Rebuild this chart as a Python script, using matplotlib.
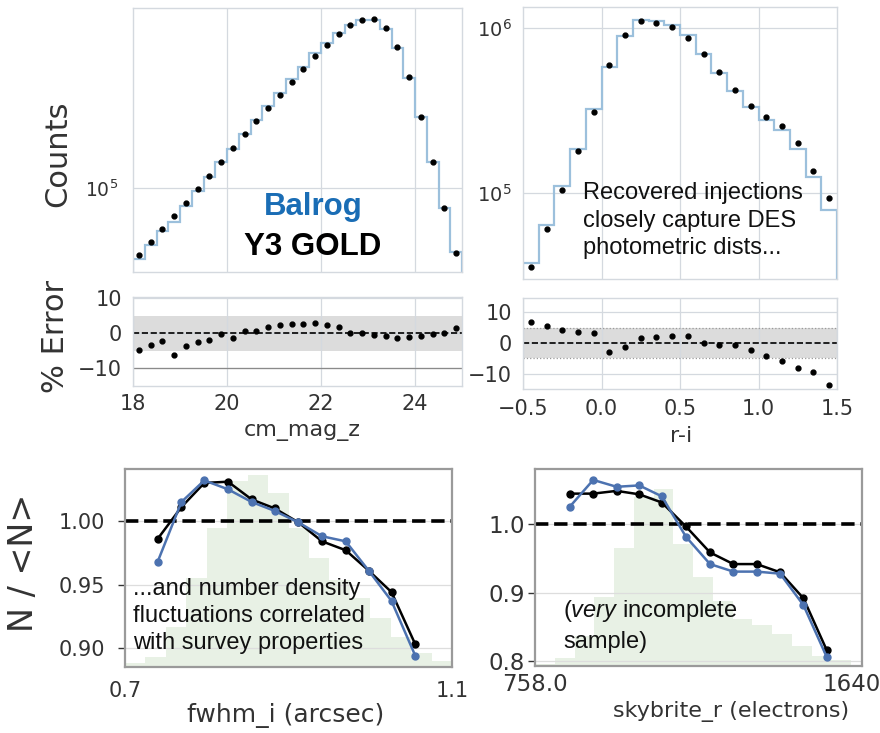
import numpy as np
import matplotlib.pyplot as plt
from matplotlib.ticker import NullFormatter, FormatStrFormatter

plt.rcParams['mathtext.fontset'] = 'custom'
plt.rcParams['mathtext.rm'] = 'Liberation Sans'
plt.rcParams['mathtext.it'] = 'Liberation Sans:italic'

W, H = 880, 733

# ---- cm_mag_z histogram (0.25 mag bins), Balrog = step, Y3 GOLD = dots
mag_edges = np.linspace(18.0, 25.0, 29)
mag_balrog = [44000, 51700, 60800, 67800, 81400, 96500, 112900, 134800, 156300,
              186500, 217800, 256500, 299100, 349300, 404200, 470800, 531300,
              596800, 654400, 691800, 694600, 626000, 501700, 354100, 225700,
              134500, 79200, 47900]
mag_gold = [46200, 53500, 62200, 72400, 84400, 98900, 115200, 134900, 158500,
            185600, 216300, 252000, 292700, 340100, 393600, 457100, 518800,
            586800, 653100, 691800, 697400, 631000, 508800, 357700, 227300,
            134900, 79200, 47200]
mag_err = [-4.7, -3.3, -2.3, -6.3, -3.6, -2.4, -2.0, -0.1, -1.4, 0.5, 0.7, 1.8,
           2.2, 2.7, 2.7, 3.0, 2.4, 1.7, 0.2, 0.0, -0.4, -0.8, -1.4, -1.0,
           -0.7, -0.3, 0.1, 1.5]

# ---- r-i histogram (0.1 bins)
ri_edges = np.linspace(-0.5, 1.5, 21)
ri_balrog = [37700, 64400, 110200, 185400, 320600, 578400, 890400, 1108000,
             1097000, 1033000, 898700, 696100, 531900, 413900, 331300, 275100,
             239300, 183700, 125000, 79600]
ri_gold = [35700, 60900, 103800, 178600, 307500, 597300, 902900, 1092000,
           1067000, 1009000, 869800, 689700, 536800, 417800, 337500, 289500,
           254200, 200600, 136500, 92800]
ri_err = [6.8, 5.5, 4.2, 3.5, 3.4, -2.9, -1.2, 1.6, 2.0, 2.3, 2.3, -0.1, -0.8,
          -0.8, -2.3, -4.1, -5.8, -8.2, -9.6, -13.7]

# ---- density vs fwhm_i
fwhm_x = [0.740, 0.769, 0.797, 0.826, 0.855, 0.883, 0.912, 0.941, 0.970, 0.998,
          1.026, 1.055]
fwhm_gold = [0.986, 1.011, 1.030, 1.031, 1.017, 1.010, 0.999, 0.984, 0.977,
             0.961, 0.944, 0.903]
fwhm_balrog = [0.968, 1.015, 1.032, 1.025, 1.015, 1.008, 0.999, 0.988, 0.984,
               0.961, 0.937, 0.894]
fwhm_hist_edges = np.linspace(0.7, 1.1, 17)
fwhm_hist = [20, 50, 200, 450, 700, 940, 970, 880, 700, 550, 440, 350, 250,
             150, 70, 30]

# ---- density vs skybrite_r
sky_x = [855, 920, 985, 1048, 1111, 1178, 1245, 1310, 1375, 1440, 1505, 1570]
sky_gold = [1.045, 1.045, 1.049, 1.044, 1.032, 0.997, 0.959, 0.942, 0.942,
            0.930, 0.892, 0.816]
sky_balrog = [1.026, 1.065, 1.055, 1.057, 1.041, 0.982, 0.942, 0.931, 0.931,
              0.928, 0.882, 0.806]
sky_hist_edges = np.linspace(758, 1638, 17)
sky_hist = [10, 40, 150, 350, 600, 860, 900, 620, 450, 330, 240, 210, 160, 100,
            50, 30]

light = '#d4d9df'
tick_col = '#333333'
step_col = '#9cc0dc'
blue = '#4c72b0'
green = '#e8f1e5'

fig = plt.figure(figsize=(W / 100, H / 100), dpi=100)


def add_px_axes(x0, y0, x1, y1):
    return fig.add_axes([x0 / W, 1 - y1 / H, (x1 - x0) / W, (y1 - y0) / H])


def fig_text(x, y, s, **kw):
    return fig.text(x / W, 1 - y / H, s, **kw)


def style_light(ax, size):
    for sp in ax.spines.values():
        sp.set_color(light)
        sp.set_linewidth(1.0)
    ax.grid(True, color=light, lw=0.9)
    ax.set_axisbelow(True)
    ax.tick_params(which='both', length=0, labelsize=size, labelcolor=tick_col)


def style_dark(ax, size, ypad, xpad):
    for sp in ax.spines.values():
        sp.set_color('#9a9a9a')
        sp.set_linewidth(1.6)
    ax.grid(True, axis='y', color='#dddddd', lw=0.9)
    ax.tick_params(axis='y', length=5, width=1, color=tick_col, labelsize=size,
                   labelcolor=tick_col, pad=ypad)
    ax.tick_params(axis='x', length=0, labelsize=size, labelcolor=tick_col, pad=xpad)


def centers(edges):
    return 0.5 * (edges[:-1] + edges[1:])


# top left: counts
ax = add_px_axes(133, 8, 462, 272)
style_light(ax, 13.5)
ax.stairs(mag_balrog, mag_edges, color=step_col, lw=1.6)
ax.plot(centers(mag_edges), mag_gold, 'o', color='k', ms=3.5)
ax.set_yscale('log')
ax.set_xlim(18, 25)
ax.set_ylim(3.8e4, 7.94e5)
ax.set_xticks([20, 22, 24])
ax.tick_params(labelbottom=False)
ax.tick_params(axis='y', pad=11)
ax.yaxis.set_minor_formatter(NullFormatter())

# top left: % error
ax = add_px_axes(133, 297, 462, 386)
style_light(ax, 15)
ax.axhspan(-5, 5, color='#dcdcdc', lw=0, zorder=0.3)
ax.axhline(0, color='k', ls='--', lw=1.2)
ax.axhline(-10, color='#8a8a8a', lw=0.9)
ax.plot(centers(mag_edges), mag_err, 'o', color='k', ms=3.5)
ax.set_xlim(18, 25)
ax.set_ylim(-15, 10.3)
ax.set_xticks([18, 20, 22, 24])
ax.set_yticks([-10, 0, 10])
ax.tick_params(axis='x', pad=6)
ax.tick_params(axis='y', pad=8)

# top right: counts
ax = add_px_axes(523, 7, 837, 279)
style_light(ax, 14)
ax.stairs(ri_balrog, ri_edges, color=step_col, lw=1.6)
ax.plot(centers(ri_edges), ri_gold, 'o', color='k', ms=3.5)
ax.set_yscale('log')
ax.set_xlim(-0.5, 1.5)
ax.set_ylim(3.03e4, 1.33e6)
ax.set_xticks([0, 0.5, 1.0])
ax.tick_params(labelbottom=False)
ax.tick_params(axis='y', pad=8)
ax.yaxis.set_minor_formatter(NullFormatter())

# top right: % error
ax = add_px_axes(523, 298, 837, 389)
style_light(ax, 15)
ax.axhspan(-5, 5, color='#dcdcdc', lw=0, zorder=0.3)
ax.axhline(5, color='#9a9a9a', ls=':', lw=0.9)
ax.axhline(-5, color='#9a9a9a', ls=':', lw=0.9)
ax.axhline(0, color='k', ls='--', lw=1.2)
ax.plot(centers(ri_edges), ri_err, 'o', color='k', ms=3.5)
ax.set_xlim(-0.5, 1.5)
ax.set_ylim(-15, 14.7)
ax.set_xticks([-0.5, 0, 0.5, 1.0, 1.5])
ax.set_yticks([-10, 0, 10])
ax.tick_params(axis='x', pad=7)
ax.tick_params(axis='y', pad=8)

# bottom left: N/<N> vs fwhm_i
ax = add_px_axes(125, 469, 452, 667)
axh = ax.twinx()
axh.stairs(fwhm_hist, fwhm_hist_edges, fill=True, color=green, lw=0)
axh.set_ylim(0, 1000)
axh.axis('off')
ax.set_zorder(axh.get_zorder() + 1)
ax.patch.set_visible(False)
style_dark(ax, 15, 9, 10)
ax.axhline(1.0, color='k', ls='--', lw=2.6)
ax.plot(fwhm_x, fwhm_gold, '-o', color='k', lw=1.8, ms=5)
ax.plot(fwhm_x, fwhm_balrog, '-o', color=blue, lw=1.8, ms=5)
ax.set_xlim(0.7, 1.1)
ax.set_ylim(0.885, 1.041)
ax.set_yticks([0.90, 0.95, 1.00])
ax.yaxis.set_major_formatter(FormatStrFormatter('%.2f'))
ax.set_xticks([0.7, 1.1])
ax.set_xticklabels(['0.7', '1.1'])

# bottom right: N/<N> vs skybrite_r
ax = add_px_axes(535, 469, 862, 666)
axh = ax.twinx()
axh.stairs(sky_hist, sky_hist_edges, fill=True, color=green, lw=0)
axh.set_ylim(0, 1000)
axh.axis('off')
ax.set_zorder(axh.get_zorder() + 1)
ax.patch.set_visible(False)
style_dark(ax, 16.5, 2, 5)
ax.axhline(1.0, color='k', ls='--', lw=2.6)
ax.plot(sky_x, sky_gold, '-o', color='k', lw=1.8, ms=5)
ax.plot(sky_x, sky_balrog, '-o', color=blue, lw=1.8, ms=5)
ax.set_xlim(758, 1668)
ax.set_ylim(0.793, 1.081)
ax.set_yticks([0.8, 0.9, 1.0])
ax.yaxis.set_major_formatter(FormatStrFormatter('%.1f'))
ax.set_xticks([758, 1640])
ax.set_xticklabels(['758.0', '1640'])

# axis labels
fig_text(58, 154, 'Counts', rotation=90, ha='center', va='center', fontsize=22, color=tick_col)
fig_text(56, 336, '% Error', rotation=90, ha='center', va='center', fontsize=22, color=tick_col)
fig_text(24, 563, 'N / <N>', rotation=90, ha='center', va='center', fontsize=24, color=tick_col)
fig_text(302, 431, 'cm_mag_z', ha='center', va='center', fontsize=16, color=tick_col)
fig_text(681, 436, 'r-i', ha='center', va='center', fontsize=16, color=tick_col)
fig_text(286, 715, 'fwhm_i (arcsec)', ha='center', va='center', fontsize=18, color=tick_col)
fig_text(731, 711, 'skybrite_r (electrons)', ha='center', va='center', fontsize=16, color=tick_col)

# annotations
fig_text(313, 215, 'Balrog', ha='center', va='baseline', fontsize=22.5,
         weight='bold', family='Liberation Sans', color='#1a6db5')
fig_text(313, 255, 'Y3 GOLD', ha='center', va='baseline', fontsize=22.5,
         weight='bold', family='Liberation Sans', color='black')

note_kw = dict(ha='left', va='baseline', fontsize=17, family='Liberation Sans', color='#111111')
for (y, line) in zip([199, 227, 254], ['Recovered injections', 'closely capture DES',
                                       'photometric dists...']):
    fig_text(583, y, line, **note_kw)
for (y, line) in zip([595, 622, 649], ['...and number density', 'fluctuations correlated',
                                       'with survey properties']):
    fig_text(133, y, line, **note_kw)
fig_text(563, 617, '($\\mathit{very}$ incomplete', **note_kw)
fig_text(563, 648, 'sample)', **note_kw)

fig.savefig('out.png', dpi=100)
